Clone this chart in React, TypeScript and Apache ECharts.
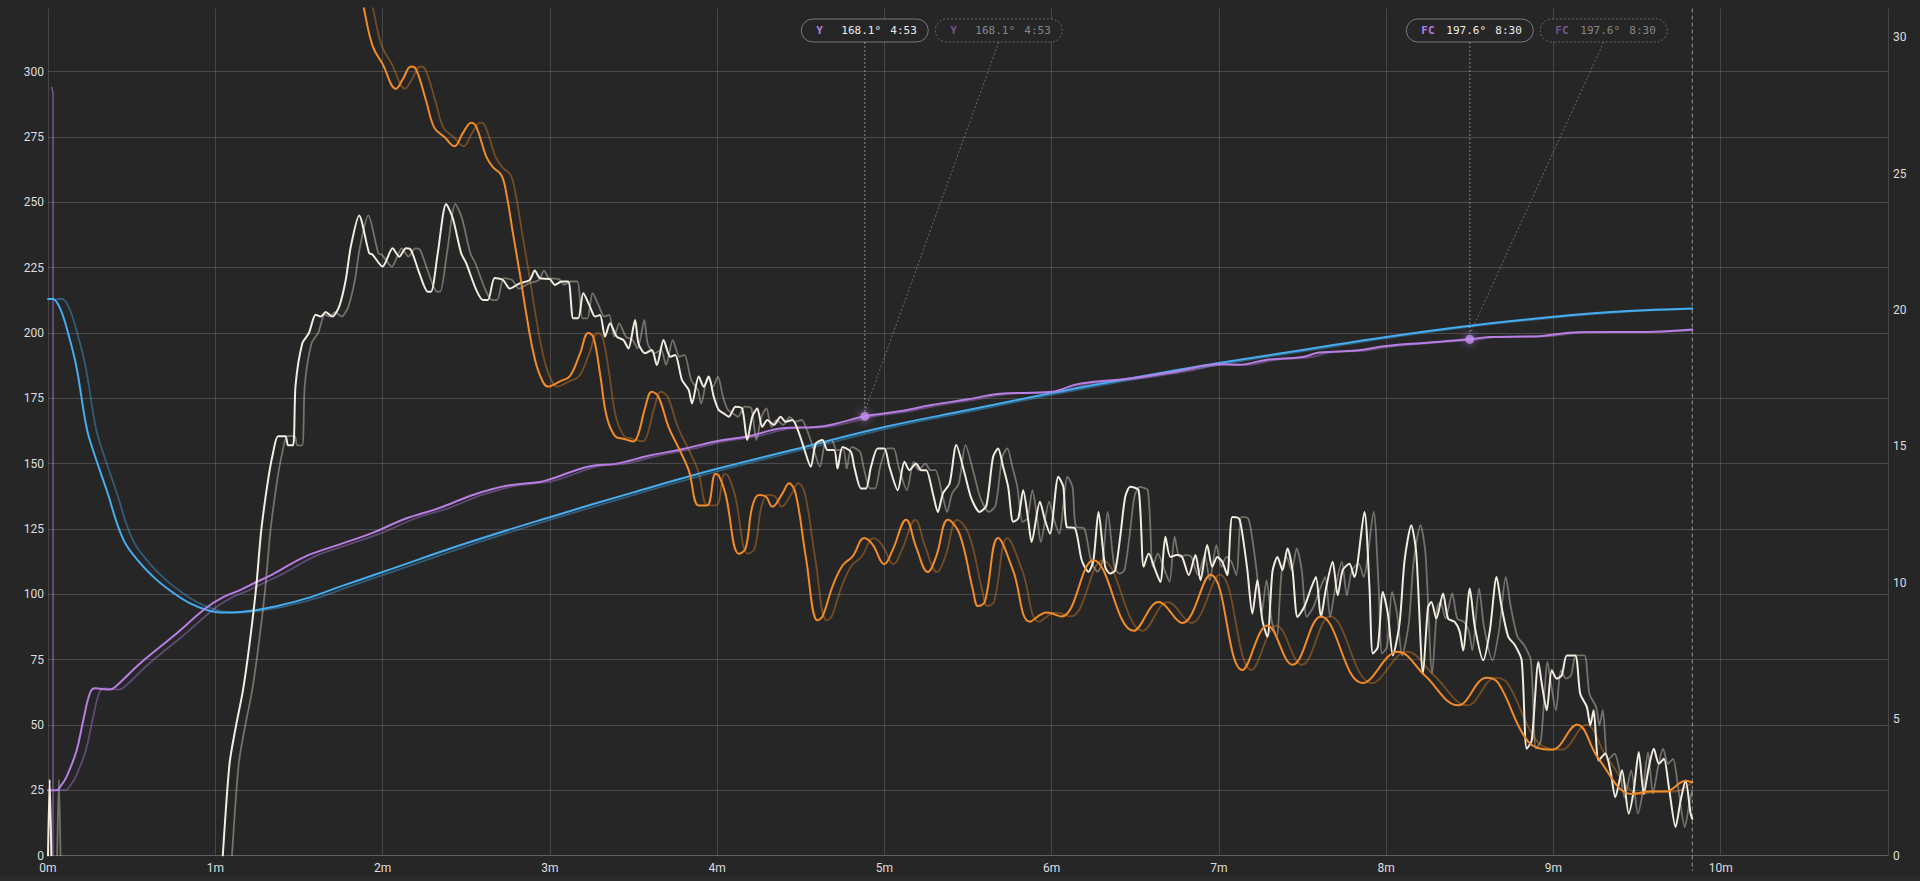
import React, { useEffect, useRef } from "react";
import * as echarts from "echarts";

// ---- data (time in minutes, value on left axis) ----
const X_MAX = 11;
const LEFT_MAX = 324.2;
const RIGHT_MAX = 31.05;
const GHOST_SHIFT = 0.055;
const END_T = 9.83;

const BLUE: [number, number][] = [
  [0, 213], [0.03, 213], [0.06, 211], [0.09, 206.5], [0.12, 200], [0.17, 187], [0.23, 164], [0.27, 155],
  [0.35, 140], [0.45, 121], [0.55, 112], [0.65, 105.5], [0.75, 100.5], [0.85, 96.5], [0.95, 94], [1.05, 93],
  [1.15, 93.2], [1.25, 94], [1.35, 95.2], [1.55, 98.5], [1.75, 103], [2.0, 108.5], [2.5, 119.5], [3.0, 129.5],
  [3.5, 139], [4.0, 148], [4.5, 156], [5.0, 164], [5.5, 170.5], [6.0, 177], [6.5, 183], [7.0, 188.5],
  [7.5, 193.5], [8.0, 198.5], [8.5, 202.8], [9.0, 206.2], [9.42, 208.3], [9.83, 209.4],
];

const PURPLE: [number, number][] = [
  [0, 25], [0.05, 25], [0.08, 27], [0.11, 30], [0.17, 40], [0.21, 51.5], [0.25, 62], [0.28, 64], [0.37, 63.5],
  [0.41, 65], [0.55, 73.5], [0.75, 84], [0.95, 95], [1.05, 99], [1.145, 101.5], [1.24, 104.5], [1.34, 107.5],
  [1.54, 114.5], [1.74, 119], [1.94, 123.5], [2.14, 129], [2.34, 133], [2.54, 138], [2.74, 141.5], [2.94, 143],
  [3.0, 144], [3.24, 149], [3.4, 150], [3.59, 153], [3.79, 155.5], [3.99, 158.5], [4.19, 160.5], [4.39, 163.5],
  [4.59, 164], [4.69, 165], [4.883, 168.1], [5.09, 170], [5.29, 172.5], [5.49, 174.5], [5.69, 176.7], [6.0, 177.5],
  [6.16, 180.5], [6.48, 182.7], [6.75, 185.3], [7.0, 188], [7.12, 187.8], [7.28, 189.7], [7.5, 190.8], [7.6, 192.5],
  [7.82, 193.3], [8.0, 195], [8.22, 196.2], [8.5, 197.6], [8.62, 198.5], [8.89, 198.7], [9.15, 200.3], [9.55, 200.4],
  [9.83, 201.3],
];

const PURPLE_SPIKE: [number, number][] = [[0.022, 294], [0.03, 292], [0.03, 0]];

const ORANGE: [number, number][] = [
  [1.82, 345], [1.886, 325], [1.94, 310], [2.0, 303], [2.08, 293.5], [2.12, 297], [2.17, 302], [2.2, 301],
  [2.26, 289], [2.31, 278.5], [2.37, 275], [2.43, 271.5], [2.48, 276.5], [2.53, 280.5], [2.56, 279], [2.62, 267.5],
  [2.66, 263.5], [2.71, 260.5], [2.74, 253.5], [2.78, 238], [2.82, 223], [2.86, 207], [2.9, 193], [2.94, 184],
  [2.99, 179.5], [3.06, 181.5], [3.12, 183.5], [3.18, 192], [3.23, 200], [3.26, 198.5], [3.3, 184.5], [3.34, 168],
  [3.39, 160.5], [3.44, 159.5], [3.5, 158.5], [3.53, 161.5], [3.57, 171.5], [3.61, 177.5], [3.65, 175.5], [3.71, 164],
  [3.77, 156], [3.83, 147.5], [3.89, 134], [3.94, 134], [3.99, 146], [4.01, 145.5], [4.05, 138.5], [4.13, 115.5],
  [4.17, 117.5], [4.21, 133.5], [4.25, 138], [4.29, 137.5], [4.33, 133.5], [4.39, 138.5], [4.43, 142.5], [4.47, 138.5],
  [4.53, 114.5], [4.6, 90], [4.63, 91.5], [4.69, 103], [4.75, 111], [4.81, 114.5], [4.88, 121.5], [4.93, 119],
  [5.0, 111.5], [5.05, 117], [5.13, 128.5], [5.19, 118], [5.26, 108.5], [5.31, 114.5], [5.38, 128.5], [5.45, 123],
  [5.53, 101.5], [5.56, 95.5], [5.6, 97], [5.68, 121.5], [5.77, 109], [5.87, 89.5], [5.97, 93], [6.06, 91.5],
  [6.25, 113], [6.49, 86], [6.64, 97], [6.78, 89], [6.95, 107.5], [7.14, 71], [7.29, 88], [7.44, 73],
  [7.61, 91.5], [7.86, 66], [8.07, 78], [8.23, 69], [8.43, 57.5], [8.6, 68], [8.67, 66], [8.85, 43.5],
  [8.99, 40.5], [9.14, 50], [9.27, 37], [9.47, 23.5], [9.57, 24.5], [9.67, 24.5], [9.79, 28.5], [9.83, 28],
];

const WHITE: [number, number | null][] = [
  [0, 0], [0.01, 29], [0.02, 0], [0.5, null], [1.045, 0], [1.085, 35], [1.125, 50], [1.165, 63], [1.205, 81],
  [1.245, 103], [1.275, 124.5], [1.315, 143.5], [1.345, 154], [1.375, 160.5], [1.42, 160.5], [1.435, 157], [1.465, 157],
  [1.48, 180], [1.52, 196], [1.56, 200], [1.6, 207], [1.63, 206.3], [1.66, 208], [1.7, 206.3], [1.74, 210],
  [1.78, 220.3], [1.81, 233], [1.86, 245], [1.92, 230.5], [1.94, 230], [2.0, 225.4], [2.06, 232.4], [2.1, 229.2],
  [2.14, 232.4], [2.17, 231.8], [2.22, 222.9], [2.27, 215.8], [2.29, 215.8], [2.33, 230.5], [2.38, 249.4], [2.42, 243.9],
  [2.47, 230.5], [2.5, 226.7], [2.56, 216.5], [2.6, 212.6], [2.63, 212.6], [2.67, 221], [2.72, 220.3], [2.76, 217],
  [2.82, 219], [2.88, 220.3], [2.91, 223.9], [2.94, 221], [3.0, 220.6], [3.03, 218.4], [3.07, 219.7], [3.11, 219.7],
  [3.14, 205.6], [3.17, 205.6], [3.2, 215.2], [3.24, 210.1], [3.27, 206.3], [3.3, 206.9], [3.33, 198.6], [3.36, 203.7],
  [3.4, 198.6], [3.44, 197.3], [3.47, 194.1], [3.51, 205], [3.53, 196], [3.57, 192.2], [3.61, 193.5], [3.64, 187.7],
  [3.68, 197.3], [3.72, 190.9], [3.75, 191.6], [3.79, 182], [3.83, 178.2], [3.85, 173], [3.89, 183.3], [3.92, 179.4],
  [3.95, 183.3], [3.98, 175.6], [4.01, 170.5], [4.04, 169.2], [4.07, 167.9], [4.11, 171.8], [4.15, 171.1], [4.18, 159],
  [4.21, 167.9], [4.24, 171.1], [4.27, 164.1], [4.3, 166.7], [4.34, 164.8], [4.38, 167.9], [4.41, 166], [4.45, 166.7],
  [4.49, 161.6], [4.52, 155.8], [4.56, 148.8], [4.59, 157.7], [4.63, 159], [4.66, 155.2], [4.7, 155.2], [4.72, 148.1],
  [4.75, 156.4], [4.8, 154.5], [4.82, 148.8], [4.86, 140.5], [4.89, 140.5], [4.92, 148.8], [4.96, 155.8], [5.0, 155.8],
  [5.03, 148.8], [5.08, 139.8], [5.12, 150.7], [5.15, 147.5], [5.19, 150], [5.22, 147.5], [5.25, 147.5], [5.29, 138.6],
  [5.32, 131.5], [5.35, 138.6], [5.39, 142.4], [5.43, 157.1], [5.48, 146.2], [5.52, 136.7], [5.57, 131.5], [5.61, 134],
  [5.65, 152.6], [5.68, 155.8], [5.71, 148.8], [5.74, 141.1], [5.77, 127.7], [5.8, 129], [5.83, 139.8], [5.86, 128.4],
  [5.88, 120], [5.93, 135.4], [5.96, 128.4], [5.99, 123.2], [6.04, 145], [6.07, 141.1], [6.09, 125.8], [6.14, 125.2],
  [6.18, 113], [6.22, 108.6], [6.25, 113], [6.28, 131.5], [6.32, 110.5], [6.35, 107.9], [6.38, 109.2], [6.41, 122],
  [6.44, 137.3], [6.47, 141.1], [6.52, 139.8], [6.55, 110.5], [6.58, 115.6], [6.62, 109.2], [6.65, 104.7], [6.68, 122],
  [6.71, 114.3], [6.75, 115], [6.78, 114.3], [6.82, 107.3], [6.86, 115], [6.89, 105.4], [6.93, 118.8], [6.96, 110.5],
  [6.99, 114.3], [7.02, 112.4], [7.05, 107.3], [7.08, 129.6], [7.12, 129], [7.14, 123.2], [7.17, 109.2], [7.2, 92.6],
  [7.23, 105.4], [7.26, 90], [7.29, 83.7], [7.32, 108.6], [7.35, 114.3], [7.38, 109.2], [7.41, 117.5], [7.44, 109.2],
  [7.47, 91.3], [7.51, 95.1], [7.55, 102.2], [7.58, 106.6], [7.61, 91.3], [7.64, 102.2], [7.68, 112.4], [7.71, 99.6],
  [7.74, 109.2], [7.78, 111.7], [7.81, 106.6], [7.87, 131.5], [7.9, 102.8], [7.92, 77.3], [7.95, 79.8], [7.98, 100.9],
  [8.01, 92.6], [8.04, 76.6], [8.08, 88.8], [8.11, 113], [8.15, 126.4], [8.18, 115.6], [8.22, 69.6], [8.25, 95],
  [8.27, 97], [8.3, 90.7], [8.34, 100.3], [8.37, 90.7], [8.41, 89.4], [8.44, 85.6], [8.46, 78.5], [8.5, 102.2],
  [8.53, 87.5], [8.58, 74.7], [8.62, 86.2], [8.66, 106.6], [8.69, 95.1], [8.73, 83.7], [8.77, 80.5], [8.81, 74.7],
  [8.84, 40.9], [8.87, 44], [8.91, 74.1], [8.93, 65.8], [8.96, 55.6], [8.99, 70.9], [9.02, 67.7], [9.05, 69],
  [9.08, 76.6], [9.13, 76.6], [9.16, 61.9], [9.2, 56.8], [9.22, 49.8], [9.24, 55.6], [9.27, 36.4], [9.31, 39],
  [9.34, 32.6], [9.37, 22.3], [9.41, 32.6], [9.45, 16], [9.48, 24.9], [9.51, 39.6], [9.54, 23.6], [9.57, 33.8],
  [9.6, 40.9], [9.63, 35.1], [9.66, 37], [9.69, 26.2], [9.73, 10.9], [9.76, 21], [9.79, 28.7], [9.82, 16], [9.83, 14],
];

const ANNOTATIONS = [
  { label: "Y", t: 4.883, v: 168.1, time: "4:53" },
  { label: "FC", t: 8.5, v: 197.6, time: "8:30" },
];

// ---- styles ----
const BG = "#262626";
const C_ORANGE = "#f28c28";
const C_WHITE = "#f1ede0";
const C_BLUE = "#46adf0";
const C_PURPLE = "#b77fe4";
const ghost = (c: string, a: number) => {
  const n = parseInt(c.slice(1), 16);
  return `rgba(${(n >> 16) & 255},${(n >> 8) & 255},${n & 255},${a})`;
};

// delayed copy of a series, cut at the end of the recording
const delayed = (d: [number, number | null][]) => {
  const out: [number, number | null][] = [];
  for (let i = 0; i < d.length; i++) {
    const t = d[i][0] + GHOST_SHIFT;
    const v = d[i][1];
    if (t <= END_T) {
      out.push([t, v]);
    } else {
      const prev = out[out.length - 1];
      if (prev && prev[1] != null && v != null) {
        const f = (END_T - prev[0]) / (t - prev[0]);
        out.push([END_T, (prev[1] as number) + f * (v - (prev[1] as number))]);
      }
      break;
    }
  }
  return out;
};

const lineSeries = (name: string, data: any[], color: string, width: number, smooth: number | boolean, z: number) => ({
  name,
  type: "line",
  data,
  yAxisIndex: 0,
  showSymbol: false,
  symbol: "none",
  smooth,
  connectNulls: false,
  silent: true,
  z,
  lineStyle: { color, width, cap: "round", join: "round" },
  emphasis: { disabled: true },
});

const MONO = '"DejaVu Sans Mono", "Liberation Mono", monospace';

export default function App() {
  const ref = useRef<HTMLDivElement>(null);

  useEffect(() => {
    document.body.style.margin = "0";
    document.body.style.background = "#2b2b2b";
    const chart = echarts.init(ref.current!, null, { renderer: "svg" });
    const axisLabel = { color: "#dedede", fontSize: 12, fontFamily: "Roboto, Inter, sans-serif" };
    chart.setOption({
      animation: false,
      backgroundColor: BG,
      grid: { left: 48, right: 32, top: 8.5, bottom: 20.5, containLabel: false },
      xAxis: {
        type: "value",
        min: 0,
        max: X_MAX,
        interval: 1,
        axisLine: { show: true, onZero: false, lineStyle: { color: "#606060", width: 1 } },
        axisTick: { show: false },
        axisLabel: { ...axisLabel, margin: 6, showMaxLabel: false, formatter: (v: number) => `${v}m` },
        splitLine: { show: true, showMinLine: true, showMaxLine: true, lineStyle: { color: "rgba(255,255,255,0.15)", width: 1 } },
      },
      yAxis: [
        {
          type: "value",
          min: 0,
          max: LEFT_MAX,
          interval: 25,
          position: "left",
          axisLine: { show: false },
          axisTick: { show: false },
          axisLabel: { ...axisLabel, margin: 4, showMaxLabel: false },
          splitLine: { show: true, showMaxLine: false, lineStyle: { color: "rgba(255,255,255,0.17)", width: 1 } },
        },
        {
          type: "value",
          min: 0,
          max: RIGHT_MAX,
          interval: 5,
          position: "right",
          axisLine: { show: false },
          axisTick: { show: false },
          axisLabel: { ...axisLabel, margin: 5, showMaxLabel: false },
          splitLine: { show: false },
        },
      ],
      series: [
        lineSeries("blue-ghost", delayed(BLUE), ghost(C_BLUE, 0.4), 1.8, 0.4, 1),
        lineSeries("purple-ghost", delayed(PURPLE), ghost(C_PURPLE, 0.4), 1.8, 0.4, 1),
        lineSeries("purple-spike", PURPLE_SPIKE, ghost(C_PURPLE, 0.55), 1.5, false, 1),
        lineSeries("white-ghost", delayed(WHITE), ghost(C_WHITE, 0.38), 1.8, 0.25, 1),
        lineSeries("orange-ghost", delayed(ORANGE), ghost(C_ORANGE, 0.38), 1.8, 0.4, 1),
        lineSeries("blue", BLUE, C_BLUE, 2, 0.4, 2),
        lineSeries("purple", PURPLE, C_PURPLE, 2, 0.4, 2),
        lineSeries("white", WHITE, C_WHITE, 2, 0.25, 3),
        lineSeries("orange", ORANGE, C_ORANGE, 2, 0.4, 4),
        {
          name: "markers",
          type: "scatter",
          data: ANNOTATIONS.map((a) => [a.t, a.v]),
          symbolSize: 9,
          silent: true,
          z: 10,
          itemStyle: { color: "#c28ef0", shadowBlur: 8, shadowColor: "rgba(190,130,245,0.9)" },
        },
      ],
    });

    const graphics: any[] = [];
    const top = 8.5;
    const [ex] = chart.convertToPixel({ xAxisIndex: 0, yAxisIndex: 0 }, [END_T, 0]) as number[];
    graphics.push({
      type: "line",
      silent: true,
      z: 50,
      shape: { x1: ex, y1: top, x2: ex, y2: 871 },
      style: { stroke: "rgba(255,255,255,0.5)", lineWidth: 1, lineDash: [4, 3] },
    });

    const PILL_W = 127;
    const PILL_H = 23;
    const PILL_Y = 19;
    const GHOST_DX = 134;
    ANNOTATIONS.forEach((a) => {
      const [px, py] = chart.convertToPixel({ xAxisIndex: 0, yAxisIndex: 0 }, [a.t, a.v]) as number[];
      const pill = (cx: number, isGhost: boolean) => {
        const left = cx - PILL_W / 2;
        const ty = PILL_Y + PILL_H / 2;
        graphics.push({
          type: "rect",
          silent: true,
          z: 60,
          shape: { x: left, y: PILL_Y, width: PILL_W, height: PILL_H, r: PILL_H / 2 },
          style: {
            fill: "#262626",
            stroke: isGhost ? "rgba(255,255,255,0.3)" : "rgba(255,255,255,0.38)",
            lineWidth: 1,
            lineDash: isGhost ? [2, 2] : null,
          },
        });
        const textStyle = (text: string, fill: string, weight: string) => ({
          text,
          fill,
          font: `${weight} 11px ${MONO}`,
          verticalAlign: "middle",
          textAlign: "left",
        });
        graphics.push({
          type: "text", silent: true, z: 61, x: left + 15, y: ty,
          style: textStyle(a.label, isGhost ? "rgba(183,127,228,0.55)" : C_PURPLE, "bold"),
        });
        graphics.push({
          type: "text", silent: true, z: 61, x: left + 40, y: ty,
          style: textStyle(`${a.v.toFixed(1)}°`, isGhost ? "rgba(255,255,255,0.45)" : "#ececec", "normal"),
        });
        graphics.push({
          type: "text", silent: true, z: 61, x: left + 89, y: ty,
          style: textStyle(a.time, isGhost ? "rgba(255,255,255,0.45)" : "#ececec", "normal"),
        });
      };
      pill(px, false);
      pill(px + GHOST_DX, true);
      graphics.push({
        type: "line", silent: true, z: 55,
        shape: { x1: px, y1: PILL_Y + PILL_H, x2: px, y2: py - 5 },
        style: { stroke: "rgba(255,255,255,0.45)", lineWidth: 1, lineDash: [2, 2] },
      });
      graphics.push({
        type: "line", silent: true, z: 55,
        shape: { x1: px + GHOST_DX, y1: PILL_Y + PILL_H, x2: px, y2: py - 5 },
        style: { stroke: "rgba(255,255,255,0.3)", lineWidth: 1, lineDash: [2, 2] },
      });
    });
    chart.setOption({ graphic: graphics });

    return () => chart.dispose();
  }, []);

  return <div ref={ref} style={{ width: "1920px", height: "876px" }} />;
}
